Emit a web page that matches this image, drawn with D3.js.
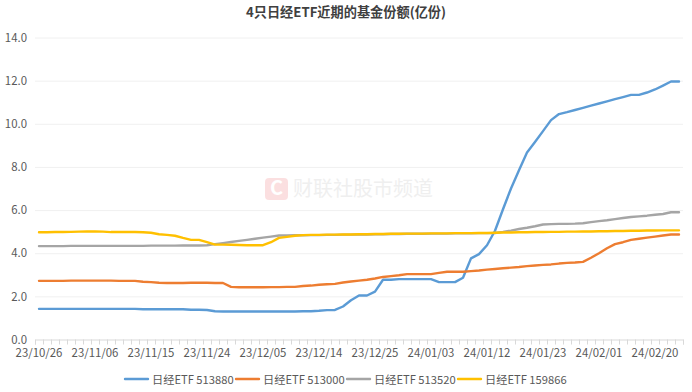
<!DOCTYPE html>
<html>
<head>
<meta charset="utf-8">
<script src="https://cdn.jsdelivr.net/npm/d3@7"></script>
<style>
    html, body { margin: 0; padding: 0; background: #fff; }
    text { font-family: "Noto Sans CJK SC", "Noto Sans", sans-serif; }
</style>
</head>
<body>
<svg id="chart" width="692" height="392"></svg>
<script>
// Dates on the x axis (trading days)
const dates = [
    "23/10/26", "23/10/27", "23/10/30", "23/10/31", "23/11/01", "23/11/02", "23/11/03", "23/11/06", "23/11/07", "23/11/08",
    "23/11/09", "23/11/10", "23/11/13", "23/11/14", "23/11/15", "23/11/16", "23/11/17", "23/11/20", "23/11/21", "23/11/22",
    "23/11/23", "23/11/24", "23/11/27", "23/11/28", "23/11/29", "23/11/30", "23/12/01", "23/12/04", "23/12/05", "23/12/06",
    "23/12/07", "23/12/08", "23/12/11", "23/12/12", "23/12/13", "23/12/14", "23/12/15", "23/12/18", "23/12/19", "23/12/20",
    "23/12/21", "23/12/22", "23/12/25", "23/12/26", "23/12/27", "23/12/28", "23/12/29", "24/01/01", "24/01/02", "24/01/03",
    "24/01/04", "24/01/05", "24/01/08", "24/01/09", "24/01/10", "24/01/11", "24/01/12", "24/01/15", "24/01/16", "24/01/17",
    "24/01/18", "24/01/19", "24/01/22", "24/01/23", "24/01/24", "24/01/25", "24/01/26", "24/01/29", "24/01/30", "24/01/31",
    "24/02/01", "24/02/02", "24/02/05", "24/02/06", "24/02/07", "24/02/08", "24/02/19", "24/02/20", "24/02/21", "24/02/22",
    "24/02/23"
];
const labelDates = ["23/10/26", "23/11/06", "23/11/15", "23/11/24", "23/12/05", "23/12/14", "23/12/25", "24/01/03", "24/01/12", "24/01/23", "24/02/01", "24/02/20"];
const yTicks = [0, 2, 4, 6, 8, 10, 12, 14];

// Fund shares
const etf513880 = [
    1.42, 1.42, 1.42, 1.42, 1.42, 1.42, 1.42, 1.42, 1.42, 1.42,
    1.42, 1.42, 1.42, 1.40, 1.40, 1.40, 1.40, 1.40, 1.40, 1.38,
    1.38, 1.37, 1.31, 1.30, 1.30, 1.30, 1.30, 1.30, 1.30, 1.30,
    1.30, 1.30, 1.30, 1.31, 1.31, 1.33, 1.36, 1.37, 1.53, 1.82,
    2.04, 2.04, 2.22, 2.77, 2.77, 2.80, 2.80, 2.80, 2.80, 2.80,
    2.66, 2.66, 2.66, 2.86, 3.76, 3.96, 4.37, 5.04, 6.04, 7.00,
    7.85, 8.67, 9.16, 9.66, 10.17, 10.45, 10.54, 10.64, 10.74, 10.84,
    10.94, 11.04, 11.14, 11.24, 11.34, 11.34, 11.45, 11.59, 11.77, 11.96,
    11.96
];
const etf513000 = [
    2.72, 2.72, 2.72, 2.72, 2.73, 2.73, 2.73, 2.73, 2.73, 2.73,
    2.72, 2.72, 2.72, 2.68, 2.66, 2.63, 2.62, 2.62, 2.62, 2.63,
    2.63, 2.63, 2.62, 2.62, 2.44, 2.42, 2.42, 2.42, 2.42, 2.43,
    2.43, 2.44, 2.44, 2.48, 2.50, 2.54, 2.56, 2.58, 2.64, 2.69,
    2.73, 2.77, 2.83, 2.90, 2.94, 2.98, 3.03, 3.03, 3.03, 3.03,
    3.09, 3.14, 3.14, 3.14, 3.17, 3.20, 3.24, 3.27, 3.30, 3.33,
    3.36, 3.40, 3.43, 3.46, 3.48, 3.52, 3.55, 3.57, 3.60, 3.79,
    4.00, 4.23, 4.42, 4.51, 4.62, 4.67, 4.72, 4.77, 4.82, 4.87,
    4.87
];
const etf513520 = [
    4.33, 4.33, 4.33, 4.33, 4.34, 4.34, 4.34, 4.34, 4.34, 4.34,
    4.34, 4.34, 4.34, 4.34, 4.35, 4.35, 4.35, 4.35, 4.36, 4.36,
    4.36, 4.37, 4.42, 4.47, 4.52, 4.57, 4.62, 4.67, 4.72, 4.77,
    4.82, 4.82, 4.83, 4.83, 4.84, 4.84, 4.85, 4.85, 4.86, 4.86,
    4.87, 4.87, 4.88, 4.88, 4.89, 4.89, 4.90, 4.90, 4.90, 4.91,
    4.91, 4.91, 4.92, 4.92, 4.92, 4.93, 4.93, 4.94, 4.99, 5.05,
    5.12, 5.18, 5.25, 5.33, 5.35, 5.36, 5.36, 5.37, 5.39, 5.44,
    5.49, 5.53, 5.58, 5.63, 5.68, 5.71, 5.74, 5.78, 5.82, 5.90,
    5.90
];
const etf159866 = [
    4.97, 4.97, 4.98, 4.98, 4.99, 5.00, 5.01, 5.01, 5.00, 4.98,
    4.98, 4.99, 4.98, 4.97, 4.95, 4.88, 4.85, 4.81, 4.71, 4.62,
    4.62, 4.51, 4.40, 4.40, 4.39, 4.38, 4.37, 4.37, 4.37, 4.51,
    4.71, 4.76, 4.81, 4.84, 4.85, 4.85, 4.86, 4.86, 4.87, 4.87,
    4.88, 4.88, 4.89, 4.89, 4.90, 4.90, 4.91, 4.91, 4.91, 4.92,
    4.92, 4.92, 4.93, 4.93, 4.93, 4.94, 4.94, 4.95, 4.96, 4.96,
    4.97, 4.97, 4.98, 4.98, 4.99, 4.99, 5.00, 5.00, 5.01, 5.01,
    5.02, 5.02, 5.03, 5.03, 5.04, 5.04, 5.05, 5.05, 5.06, 5.06,
    5.06
];

const names = ["日经ETF 513880", "日经ETF 513000", "日经ETF 513520", "日经ETF 159866"];
const colors = ["#5B9BD5", "#ED7D31", "#A5A5A5", "#FFC000"];
const seriesList = [etf513880, etf513000, etf513520, etf159866];

// Set up dimensions
const margin = { top: 37.5, right: 9, bottom: 52.5, left: 35 };
const width = 692 - margin.left - margin.right;
const height = 392 - margin.top - margin.bottom;

const svg = d3.select("#chart");

// Title
svg.append("text")
    .attr("x", 346)
    .attr("y", 17)
    .attr("text-anchor", "middle")
    .attr("font-size", 13.2)
    .attr("font-weight", 700)
    .attr("fill", "#404040")
    .text("4只日经ETF近期的基金份额(亿份)");

const g = svg.append("g")
    .attr("transform", `translate(${margin.left},${margin.top})`);

// Scales
const xScale = d3.scaleBand().domain(dates).range([0, width]);
const edgeScale = d3.scaleLinear().domain([0, dates.length]).range([0, width]);
const yScale = d3.scaleLinear().domain([0, 14]).range([height, 0]);

// Horizontal grid + y labels
const yAxis = g.append("g")
    .call(d3.axisLeft(yScale).tickValues(yTicks).tickFormat(d3.format(".1f")).tickSize(-width).tickPadding(8));
yAxis.select(".domain").remove();
yAxis.selectAll("line").attr("stroke", "#f0f0f0");
yAxis.selectAll("text").attr("font-size", 11.4).attr("fill", "#595959");
yAxis.selectAll(".tick").filter(d => d === 0).select("line").remove();

// Watermark
const markX = edgeScale(28.75);
const markY = yScale(7.49);
const mark = g.append("g").attr("opacity", 0.13);
mark.append("rect")
    .attr("x", markX)
    .attr("y", markY)
    .attr("width", 23)
    .attr("height", 22)
    .attr("rx", 4)
    .attr("fill", "#e8141c");
mark.append("text")
    .attr("x", markX + 11.5)
    .attr("y", markY + 17.5)
    .attr("text-anchor", "middle")
    .attr("font-size", 20)
    .attr("font-weight", 700)
    .attr("fill", "#fff")
    .text("C");
g.append("text")
    .attr("x", markX + 28)
    .attr("y", markY + 18)
    .attr("font-size", 20)
    .attr("fill", "#efefef")
    .text("财联社股市频道");

// X axis: ticks on every band edge, labels every 7th date
const xTicks = g.append("g")
    .attr("transform", `translate(0,${height})`)
    .call(d3.axisBottom(edgeScale).tickValues(d3.range(dates.length + 1)).tickFormat("").tickSize(5));
xTicks.selectAll("line").attr("stroke", "#d9d9d9");
xTicks.select(".domain").attr("stroke", "#d9d9d9");

const xLabels = g.append("g")
    .attr("transform", `translate(0,${height})`)
    .call(d3.axisBottom(xScale).tickValues(labelDates).tickSize(0).tickPadding(9));
xLabels.select(".domain").remove();
xLabels.selectAll("text").attr("font-size", 11.4).attr("fill", "#595959");

// Lines
const line = d3.line()
    .x((d, i) => xScale(dates[i]) + xScale.bandwidth() / 2)
    .y(d => yScale(d));

g.selectAll(".series")
    .data(seriesList)
    .enter()
    .append("path")
    .attr("class", "series")
    .attr("d", line)
    .attr("fill", "none")
    .attr("stroke", (d, i) => colors[i])
    .attr("stroke-width", 2.4)
    .attr("stroke-linecap", "round")
    .attr("stroke-linejoin", "round");

// Legend
const legendX = d3.scaleLinear().domain([0, 4]).range([125, 125 + 4 * 111]);
const legend = svg.selectAll(".legend")
    .data(names)
    .enter()
    .append("g")
    .attr("class", "legend")
    .attr("transform", (d, i) => `translate(${legendX(i)},379)`);
legend.append("line")
    .attr("x1", 0)
    .attr("x2", 23)
    .attr("stroke", (d, i) => colors[i])
    .attr("stroke-width", 2.4)
    .attr("stroke-linecap", "round");
legend.append("text")
    .attr("x", 27)
    .attr("y", 4.5)
    .attr("font-size", 11.2)
    .attr("fill", "#595959")
    .text(d => d);
</script>
</body>
</html>
